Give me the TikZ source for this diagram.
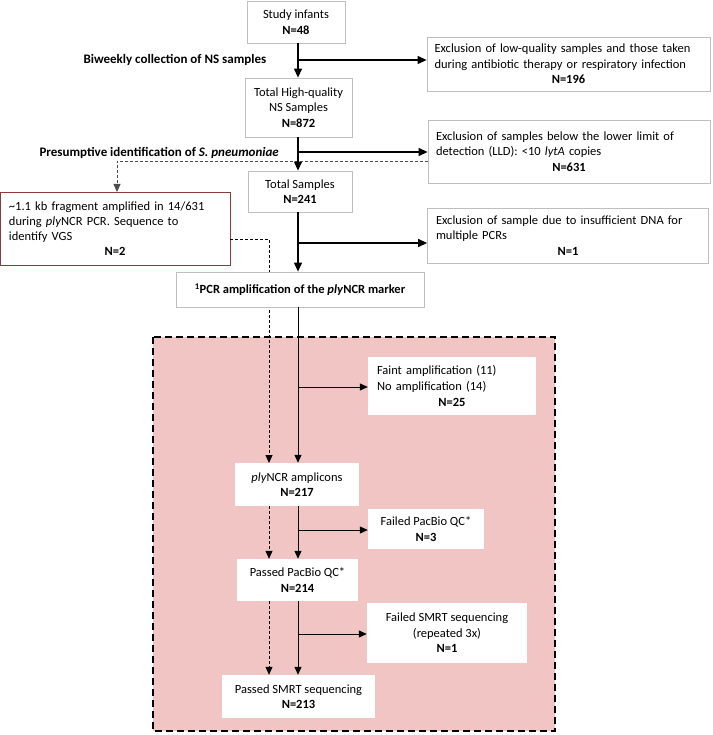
\documentclass[tikz,border=0pt]{standalone}
\usepackage{fontspec}
\setmainfont{Carlito}
\usetikzlibrary{arrows.meta}
\definecolor{pinkbg}{HTML}{F2C5C5}
\definecolor{boxgray}{HTML}{BFBFBF}
\definecolor{vgsred}{HTML}{8C3B3B}
\begin{document}
\begin{tikzpicture}[x=1pt,y=-1pt,
  font=\fontsize{12.5}{15.6}\selectfont,
  box/.style={draw=boxgray, fill=white, line width=0.8pt, inner sep=0pt, align=center},
  lbox/.style={box, align=left},
  ibox/.style={fill=white, draw=none, inner sep=0pt, align=center},
  libox/.style={ibox, align=left},
  flow/.style={line width=1.2pt, -{Triangle[length=9pt,width=8pt]}},
  iflow/.style={line width=1pt, -{Triangle[length=8pt,width=7pt]}},
  dline/.style={line width=0.8pt, dash pattern=on 3pt off 2pt},
  dflow/.style={dline, -{Triangle[length=8pt,width=7pt]}},
  lbl/.style={font=\fontsize{13}{15.8}\selectfont\bfseries}
]
\useasboundingbox (0,0) rectangle (712,735);
\coordinate (mx) at (298,0);

% pink region
\draw[fill=pinkbg, line width=2pt, dash pattern=on 7pt off 4pt] (153,337) rectangle (555,731);

\path
 (296,22) node[box, minimum width=98pt, minimum height=42pt] (infants) {Study infants\\\textbf{N=48}}
 (568.5,64) node[lbox, minimum width=283pt, minimum height=54pt, text width=268pt] (excl1)
   {\mbox{Exclusion of low-quality samples and those taken}\\\mbox{during antibiotic therapy or respiratory infection}\\\makebox[\linewidth]{\textbf{N=196}}}
 (298.5,107.5) node[box, minimum width=107pt, minimum height=59pt] (hq) {Total High-quality\\NS Samples\\\textbf{N=872}}
 (569,151.5) node[lbox, minimum width=282pt, minimum height=63pt, text width=266pt] (excl2)
   {\mbox{Exclusion of samples below the lower limit of}\\\mbox{detection (LLD): <10 \textit{lytA} copies}\\\makebox[\linewidth]{\textbf{N=631}}}
 (300,191.5) node[box, minimum width=104pt, minimum height=41pt] (total) {Total Samples\\\textbf{N=241}}
 (568,235.5) node[lbox, minimum width=281pt, minimum height=55pt, text width=264pt] (excl3)
   {\mbox{Exclusion of sample due to insufficient DNA for}\\multiple PCRs\\\makebox[\linewidth]{\textbf{N=1}}};

% dashed connectors (behind boxes)
\coordinate (dl) at (117,161);
\coordinate (dx) at (269,239);
\draw[dflow, draw=black!70] (dl -| excl2.west) -- (dl) -- (117,192);

\path (115,228.5) node[lbox, draw=vgsred, minimum width=230pt, minimum height=73pt, text width=212pt, font=\fontsize{12.5}{14.8}\selectfont] (vgs)
   {\mbox{\textasciitilde1.1 kb fragment amplified in 14/631}\\during \textit{ply}NCR PCR. Sequence to\\identify VGS\\\makebox[\linewidth]{\textbf{N=2}}};

\draw[dflow] (vgs.east |- dx) -- (dx) -- (269,463);

\path
 (300,289.5) node[box, minimum width=248pt, minimum height=35pt, font=\fontsize{12.5}{15.6}\selectfont\bfseries] (pcr)
   {\textsuperscript{1}PCR amplification of the \textit{ply}NCR marker}
 (452,386) node[libox, minimum width=168pt, minimum height=58pt, text width=150pt] (faint)
   {Faint amplification (11)\\No amplification (14)\\\makebox[\linewidth]{\textbf{N=25}}}
 (297,484.5) node[ibox, minimum width=124pt, minimum height=43pt] (ply) {\textit{ply}NCR amplicons\\\textbf{N=217}}
 (426,529) node[ibox, minimum width=116pt, minimum height=40pt] (fpac) {Failed PacBio QC*\\\textbf{N=3}}
 (297.5,580) node[ibox, minimum width=121pt, minimum height=42pt] (ppac) {Passed PacBio QC*\\\textbf{N=214}}
 (447,633) node[ibox, minimum width=160pt, minimum height=60pt] (fsmrt) {Failed SMRT sequencing\\(repeated 3x)\\\textbf{N=1}}
 (298.5,696.5) node[ibox, minimum width=153pt, minimum height=43pt] (psmrt) {Passed SMRT sequencing\\\textbf{N=213}};

% labels
\node[lbl, anchor=west] (biweekly) at (80,60) {Biweekly collection of NS samples};
\node[lbl, anchor=west] (presump) at (36,153) {Presumptive identification of \textit{S. pneumoniae}};

% main flow
\draw[flow] (infants.south -| mx) -- (hq.north -| mx);
\coordinate (b1) at (298,60);
\draw[flow] (b1) -- (b1 -| excl1.west);
\draw[flow] (hq.south -| mx) -- (total.north -| mx);
\coordinate (b2) at (298,152);
\draw[flow] (b2) -- (b2 -| excl2.west);
\draw[dline, draw=black!70] (dl -| excl2.west) -- (dl -| mx);
\draw[flow] (total.south -| mx) -- (pcr.north -| mx);
\coordinate (b3) at (298,243);
\draw[flow] (b3) -- (b3 -| excl3.west);

\draw[iflow] (pcr.south -| mx) -- (ply.north -| mx);
\coordinate (b4) at (298,387);
\draw[iflow] (b4) -- (b4 -| faint.west);
\draw[iflow] (ply.south -| mx) -- (ppac.north -| mx);
\coordinate (b5) at (298,530);
\draw[iflow] (b5) -- (b5 -| fpac.west);
\draw[iflow] (ppac.south -| mx) -- (psmrt.north -| mx);
\coordinate (b6) at (298,634);
\draw[iflow] (b6) -- (b6 -| fsmrt.west);

\draw[dflow] (ply.south -| dx) -- (ppac.north -| dx);
\draw[dflow] (ppac.south -| dx) -- (psmrt.north -| dx);
\end{tikzpicture}
\end{document}
